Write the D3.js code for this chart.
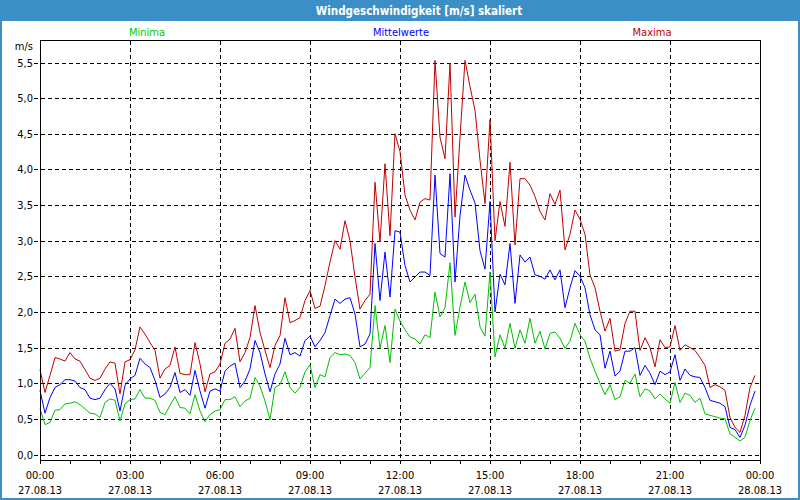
<!DOCTYPE html>
<html>
<head>
<meta charset="utf-8">
<script src="https://cdn.jsdelivr.net/npm/d3@7/dist/d3.min.js"></script>
<style>
  html, body { margin: 0; padding: 0; background: #ffffff; }
  svg { display: block; }
  text { font-family: "DejaVu Sans Condensed", "DejaVu Sans", sans-serif; }
</style>
</head>
<body>
<svg id="chart" width="800" height="500"></svg>
<script>
// ---- Data (10-minute values, 27.08.13 00:00 .. 23:50) ----
const minima = [
0.64,0.42,0.45,0.62,0.63,0.71,0.72,0.74,0.70,0.64,0.58,0.57,0.52,0.73,0.78,0.76,0.47,0.71,0.77,0.78,
0.91,0.79,0.79,0.76,0.59,0.56,0.69,0.81,0.66,0.65,0.57,0.84,0.61,0.46,0.56,0.61,0.63,0.77,0.77,0.81,
0.67,0.75,0.79,1.08,0.96,0.75,0.49,0.94,0.98,1.16,0.94,0.86,0.94,1.16,1.26,0.94,1.12,1.09,1.36,1.43,
1.40,1.41,1.39,1.29,1.06,1.14,1.22,2.09,1.49,1.81,1.29,2.04,1.87,1.75,1.65,1.62,1.55,1.68,1.64,2.28,
1.93,2.06,2.69,1.67,2.07,2.42,2.13,2.25,1.79,1.66,2.56,1.37,1.68,1.49,1.84,1.49,1.75,1.56,1.91,1.56,
1.73,1.48,1.70,1.72,1.63,1.49,1.59,1.84,1.68,1.59,1.35,1.17,1.00,0.84,0.98,0.77,0.81,1.04,1.00,1.13,
0.81,0.92,0.89,0.78,0.85,0.78,0.72,1.01,0.73,0.86,0.83,0.73,0.79,0.57,0.55,0.53,0.51,0.50,0.29,0.24,
0.19,0.24,0.48,0.65];
const mittelwerte = [
0.90,0.58,0.80,0.94,0.98,1.05,1.05,1.03,0.94,0.91,0.79,0.77,0.79,0.91,1.00,0.92,0.61,0.97,1.06,1.11,
1.35,1.27,1.22,1.04,0.80,0.85,0.94,1.15,0.87,0.91,0.83,1.18,0.89,0.65,0.89,0.92,0.89,1.17,1.24,1.28,
0.94,1.03,1.20,1.60,1.43,1.13,0.88,1.13,1.27,1.63,1.40,1.43,1.38,1.60,1.66,1.51,1.60,1.71,1.95,2.18,
2.12,2.18,2.20,1.97,1.51,1.55,1.69,2.96,2.16,2.84,2.21,3.14,3.12,2.65,2.42,2.49,2.56,2.56,2.51,3.92,
2.82,2.77,3.94,2.42,3.35,3.92,3.71,3.53,2.86,2.60,3.55,2.00,2.53,2.38,2.96,2.12,2.80,2.70,2.77,2.52,
2.50,2.46,2.59,2.45,2.59,2.06,2.34,2.58,2.50,2.34,1.96,1.75,1.68,1.21,1.45,1.10,1.17,1.45,1.45,1.50,
1.11,1.25,1.14,0.98,1.17,1.12,1.16,1.40,1.04,1.20,1.11,1.09,1.08,0.94,0.76,0.74,0.72,0.67,0.38,0.35,
0.24,0.41,0.69,0.89];
const maxima = [
1.19,0.87,1.11,1.36,1.34,1.31,1.43,1.34,1.31,1.19,1.07,1.04,1.07,1.20,1.30,1.28,0.85,1.30,1.33,1.47,
1.79,1.69,1.57,1.46,1.07,1.20,1.25,1.51,1.14,1.12,1.12,1.57,1.27,0.88,1.13,1.16,1.27,1.56,1.62,1.77,
1.30,1.43,1.64,2.09,1.71,1.46,1.22,1.53,1.67,2.20,1.85,1.88,1.92,2.16,2.30,2.05,2.08,2.37,2.70,3.00,
2.88,3.28,3.00,2.49,2.04,2.16,2.25,3.82,2.98,4.08,3.07,4.50,4.25,3.64,3.43,3.29,3.54,3.59,3.57,5.53,
4.45,4.15,5.49,3.33,4.45,5.53,5.16,4.83,4.13,3.52,4.70,3.00,3.55,3.20,4.10,2.94,3.87,3.87,3.78,3.62,
3.41,3.29,3.66,3.51,3.71,2.87,3.09,3.43,3.30,3.09,2.52,2.34,2.01,1.73,1.91,1.45,1.47,1.84,2.01,2.01,
1.46,1.64,1.50,1.23,1.61,1.50,1.51,1.81,1.46,1.54,1.50,1.46,1.36,1.25,0.94,0.98,0.95,0.90,0.52,0.38,
0.31,0.55,0.94,1.11];
const stepMinutes = 10;

const yTickValues = [0, 0.5, 1, 1.5, 2, 2.5, 3, 3.5, 4, 4.5, 5, 5.5];
const xTickHours = [0, 3, 6, 9, 12, 15, 18, 21, 24];
const xTimeLabels = ["00:00","03:00","06:00","09:00","12:00","15:00","18:00","21:00","00:00"];
const xDateLabels = ["27.08.13","27.08.13","27.08.13","27.08.13","27.08.13","27.08.13","27.08.13","27.08.13","28.08.13"];
const legendNames = ["Minima", "Mittelwerte", "Maxima"];
const title = "Windgeschwindigkeit [m/s] skaliert";
const unitLabel = "m/s";

// ---- Layout ----
const W = 800, H = 500;
const frame = {left: 40.5, right: 760.5, top: 40.5, bottom: 460.5};
const colors = {min: "#00c000", mean: "#0000ff", max: "#c00000"};
const legendColors = ["#00c800", "#0000ff", "#c00000"];
const barColor = "#3c8fc6";

const svg = d3.select("#chart");

const x = d3.scaleLinear().domain([0, 24 * 60]).range([40, 760]);
const y = d3.scaleLinear().domain([0, 5.5]).range([454.5, 62.5]);

const loc = d3.formatLocale({decimal: ",", thousands: ".", grouping: [3], currency: ["", "€"]});
const fmt = loc.format(".1f");

// background
svg.append("rect").attr("x", 0).attr("y", 0).attr("width", W).attr("height", H).attr("fill", "#ffffff");

// title bar
svg.append("rect").attr("x", 0).attr("y", 0).attr("width", W).attr("height", 21).attr("fill", barColor);
svg.append("text").attr("x", 419).attr("y", 15)
  .attr("text-anchor", "middle").attr("fill", "#ffffff")
  .attr("font-size", "11.5px").attr("font-weight", "bold").text(title);

// window border
svg.append("rect").attr("x", 1).attr("y", 1).attr("width", W - 2).attr("height", H - 2)
  .attr("fill", "none").attr("stroke", barColor).attr("stroke-width", 2);

// legend
const legendX = [147, 401, 652];
svg.selectAll("text.legend").data(legendNames).enter().append("text")
  .attr("class", "legend")
  .attr("x", (d, i) => legendX[i]).attr("y", 36)
  .attr("text-anchor", "middle").attr("font-size", "11px")
  .attr("fill", (d, i) => legendColors[i]).text(d => d);

// plot background
svg.append("rect").attr("x", frame.left).attr("y", frame.top)
  .attr("width", frame.right - frame.left).attr("height", frame.bottom - frame.top)
  .attr("fill", "#ffffff");

// horizontal gridlines (dashed, extending slightly left of axis as ticks)
svg.append("g").selectAll("line").data(yTickValues).enter().append("line")
  .attr("x1", 34).attr("x2", frame.right)
  .attr("y1", d => Math.round(y(d)) + 0.5).attr("y2", d => Math.round(y(d)) + 0.5)
  .attr("stroke", "#000").attr("stroke-width", 1)
  .attr("stroke-dasharray", "4,3").attr("shape-rendering", "crispEdges");

// vertical gridlines
svg.append("g").selectAll("line").data(xTickHours.slice(1, -1)).enter().append("line")
  .attr("x1", d => Math.round(x(d * 60)) + 0.5).attr("x2", d => Math.round(x(d * 60)) + 0.5)
  .attr("y1", frame.top).attr("y2", frame.bottom)
  .attr("stroke", "#000").attr("stroke-width", 1)
  .attr("stroke-dasharray", "4,3").attr("shape-rendering", "crispEdges");

// hourly ticks below the x axis
svg.append("g").selectAll("line").data(d3.range(0, 25)).enter().append("line")
  .attr("x1", d => Math.round(x(d * 60)) + 0.5).attr("x2", d => Math.round(x(d * 60)) + 0.5)
  .attr("y1", frame.bottom).attr("y2", frame.bottom + 3)
  .attr("stroke", "#000").attr("stroke-width", 1).attr("shape-rendering", "crispEdges");

// y labels
svg.append("g").selectAll("text").data(yTickValues).enter().append("text")
  .attr("x", 33).attr("y", d => y(d) + 4)
  .attr("text-anchor", "end").attr("font-size", "11px").attr("fill", "#000")
  .text(d => fmt(d));
svg.append("text").attr("x", 33).attr("y", 50).attr("text-anchor", "end")
  .attr("font-size", "11px").attr("fill", "#000").text(unitLabel);

// x labels
const xl = svg.append("g").selectAll("g").data(xTickHours).enter().append("g");
xl.append("text").attr("x", d => x(d * 60)).attr("y", 479)
  .attr("text-anchor", "middle").attr("font-size", "11px").attr("fill", "#000")
  .text((d, i) => xTimeLabels[i]);
xl.append("text").attr("x", d => x(d * 60)).attr("y", 494)
  .attr("text-anchor", "middle").attr("font-size", "11px").attr("fill", "#000")
  .text((d, i) => xDateLabels[i]);

// series
const line = d3.line().x((d, i) => x(i * stepMinutes)).y(d => y(d));
const series = [
  {data: minima, color: colors.min},
  {data: mittelwerte, color: colors.mean},
  {data: maxima, color: colors.max}
];
svg.append("g").selectAll("path").data(series).enter().append("path")
  .attr("d", s => line(s.data))
  .attr("fill", "none").attr("stroke", s => s.color).attr("stroke-width", 1);

// frame
svg.append("rect").attr("x", frame.left).attr("y", frame.top)
  .attr("width", frame.right - frame.left).attr("height", frame.bottom - frame.top)
  .attr("fill", "none").attr("stroke", "#000").attr("stroke-width", 1)
  .attr("shape-rendering", "crispEdges");
</script>
</body>
</html>
